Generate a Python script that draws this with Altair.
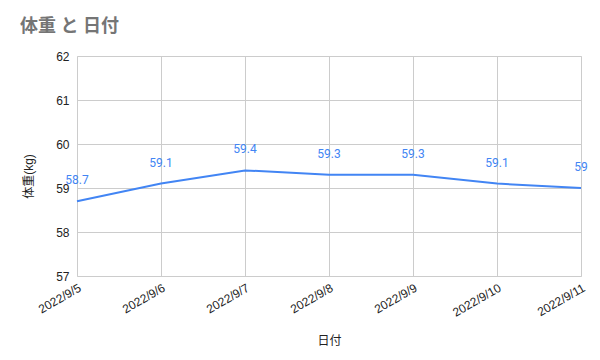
import altair as alt
import pandas as pd

dates = ["2022/9/5", "2022/9/6", "2022/9/7", "2022/9/8", "2022/9/9", "2022/9/10", "2022/9/11"]
weights = [58.7, 59.1, 59.4, 59.3, 59.3, 59.1, 59.0]
labels = ["58.7", "59.1", "59.4", "59.3", "59.3", "59.1", "59"]

df = pd.DataFrame({"日付": dates, "体重(kg)": weights, "label": labels})

FONT = "Liberation Sans, Arial, Noto Sans CJK JP"
BLUE = "#4285F4"

x = alt.X("日付:N", sort=dates,
          scale=alt.Scale(type="point", padding=0),
          axis=alt.Axis(title="日付", labelAngle=-30, labelAlign="right", labelBaseline="top",
                        grid=True, gridColor="#cccccc", ticks=False, domain=False,
                        labelPadding=6, titlePadding=17, labelFontSize=12, titleFontSize=12,
                        titleFontWeight="normal", labelColor="#222222", titleColor="#222222"))
y = alt.Y("体重(kg):Q",
          scale=alt.Scale(domain=[57, 62], nice=False, zero=False),
          axis=alt.Axis(title="体重(kg)", values=[57, 58, 59, 60, 61, 62], grid=True,
                        gridColor="#cccccc", ticks=False, domain=False, labelPadding=8,
                        titlePadding=20, titleY=120, labelFontSize=12, titleFontSize=12,
                        titleFontWeight="normal", labelColor="#222222", titleColor="#222222"))

line = alt.Chart(df).mark_line(color=BLUE, strokeWidth=2).encode(x=x, y=y)
text = alt.Chart(df).mark_text(color=BLUE, fontSize=12, dy=-21, font="Roboto").encode(
    x=alt.X("日付:N", sort=dates), y="体重(kg):Q", text="label:N")

chart = alt.layer(line, text).properties(
    width=504, height=220,
    title=alt.TitleParams("体重 と 日付", anchor="start", frame="group", dx=-57, offset=14,
                          fontSize=18, fontWeight="bold", color="#757575",
                          font="Roboto, Noto Sans CJK JP"),
    autosize=alt.AutoSizeParams(type="none"),
    padding={"left": 77, "top": 56, "right": 19, "bottom": 84},
).configure_view(stroke=None).configure(font=FONT)

chart.save("out.html", embed_options={"renderer": "svg", "actions": False})
